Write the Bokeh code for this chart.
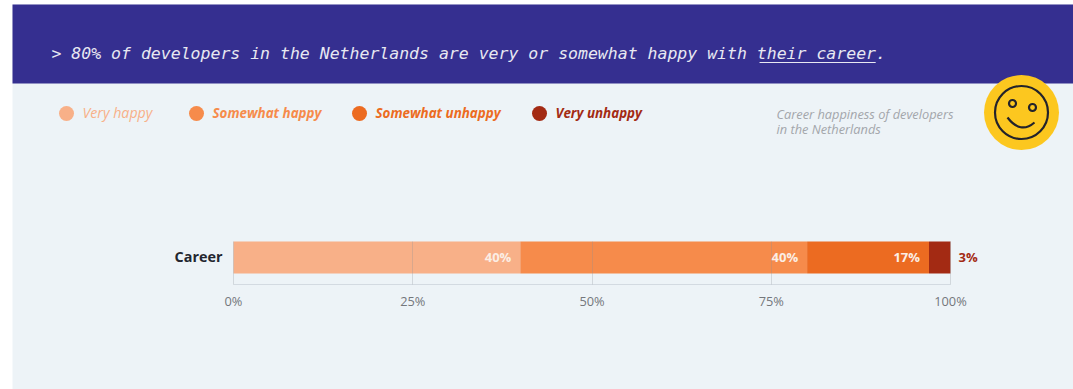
from bokeh.core.properties import value
from bokeh.embed import file_html
from bokeh.models import ColumnDataSource, FixedTicker, LinearAxis, Range1d
from bokeh.plotting import figure
from bokeh.resources import INLINE
import numpy as np

# Survey shares for the single "Career" row
category = "Career"
segments = ["Very happy", "Somewhat happy", "Somewhat unhappy", "Very unhappy"]
shares = [40, 40, 17, 3]
colors = ["#f8b088", "#f68b4b", "#ec6b21", "#a32a13"]
tick_values = [0, 25, 50, 75, 100]
headline = "> 80% of developers in the Netherlands are very or somewhat happy with their career."
underlined = "their career"
caption = ["Career happiness of developers", "in the Netherlands"]

W, H = 1073, 389
ROW_Y = 257
ROW_H = 32
AXIS_Y = 284
X0, X100 = 233, 950   # pixel span of the 0-100% scale

SANS = value("Open Sans")
MONO = value("DejaVu Sans Mono")

scale = (X100 - X0) / 100
p = figure(
    width=W, height=H, output_backend="svg", toolbar_location=None,
    x_range=Range1d(-X0 / scale, (W - X0) / scale),
    y_range=Range1d(H, 0),
    min_border=0, min_border_left=0, min_border_right=0,
    min_border_top=0, min_border_bottom=0,
    x_axis_location=None, y_axis_location=None,
    background_fill_color="#ffffff", border_fill_color="#ffffff",
    outline_line_color=None,
)
p.grid.visible = False
p.extra_x_ranges["px"] = Range1d(0, W)

# Page panel and header band, positioned in pixels
p.quad(left=[12], right=[W], top=[4], bottom=[H], x_range_name="px",
       fill_color="#edf3f7", line_color=None)
p.quad(left=[12], right=[W], top=[4], bottom=[83], x_range_name="px",
       fill_color="#352f90", line_color=None)

# Headline, with an underline under the emphasised words
HX, HY, CH = 51, 53, 9.93
p.text(x=[HX], y=[HY], text=[headline], x_range_name="px",
       text_font=MONO, text_font_style="italic", text_font_size="16.5px",
       text_color="#e8e8f2", text_baseline="middle", text_align="left")
start = headline.index(underlined)
p.segment(x0=[HX + start * CH + 3], x1=[HX + (start + len(underlined)) * CH],
          y0=[HY + 9], y1=[HY + 9], x_range_name="px",
          line_color="#e8e8f2", line_width=1.2)

# Legend row
legend_dots = [66, 196, 359, 539]
for name, color, cx in zip(segments, colors, legend_dots):
    regular = name == "Very happy"
    p.scatter(x=[cx], y=[113], size=15, marker="circle", x_range_name="px",
              fill_color=color, line_color=None)
    p.text(x=[cx + 16], y=[112], text=[name], x_range_name="px",
           text_font=SANS, text_font_size="14.2px" if regular else "13.4px",
           text_font_style="italic" if regular else "bold italic",
           text_color=color, text_baseline="middle", text_align="left")

# Chart description beside the emoji
for line, ly in zip(caption, [113, 128]):
    p.text(x=[776], y=[ly], text=[line], x_range_name="px",
           text_font=SANS, text_font_style="italic", text_font_size="12.8px",
           text_color="#a3a6ab", text_baseline="middle", text_align="left")

# Smiley badge
FX, FY = 1021, 112
INK = "#23232b"
p.scatter(x=[FX], y=[FY], size=75, marker="circle", x_range_name="px",
          fill_color="#fcc71f", line_color=None)
p.scatter(x=[FX], y=[FY], size=53, marker="circle", x_range_name="px",
          fill_color=None, line_color=INK, line_width=2.2)
p.scatter(x=[FX - 9, FX + 11], y=[FY - 9, FY - 5], size=7, marker="circle",
          x_range_name="px", fill_color=None, line_color=INK, line_width=2.2)
p.quadratic(x0=[FX - 14], y0=[FY + 5], x1=[FX + 13], y1=[FY + 10],
            cx=[FX - 1], cy=[FY + 22], x_range_name="px",
            line_color=INK, line_width=2.2)

# Stacked bar
source = ColumnDataSource({"y": [ROW_Y], **{s: [v] for s, v in zip(segments, shares)}})
p.hbar_stack(segments, y="y", height=ROW_H, color=colors, line_color=None, source=source)

# Percent scale below the bar; its ticks rise through the bar as faint rules
x_axis = LinearAxis(
    ticker=FixedTicker(ticks=tick_values),
    major_label_overrides={t: f"{t}%" for t in tick_values},
    bounds=(0, 100), fixed_location=AXIS_Y,
    axis_line_color="#d3dae1", axis_line_width=1,
    major_tick_line_color="#8a8f96", major_tick_line_alpha=0.28,
    major_tick_in=AXIS_Y - (ROW_Y - ROW_H // 2), major_tick_out=0,
    minor_tick_line_color=None, major_label_standoff=7,
    major_label_text_font="Open Sans", major_label_text_font_size="12.8px",
    major_label_text_color="#74777c", major_label_text_font_style="normal",
)
p.add_layout(x_axis, "below")

# Row label as a y axis tick at the start of the scale
y_axis = LinearAxis(
    ticker=FixedTicker(ticks=[ROW_Y - 1]),
    major_label_overrides={ROW_Y - 1: category},
    fixed_location=0, axis_line_color=None,
    major_tick_line_color=None, minor_tick_line_color=None,
    major_tick_in=0, major_tick_out=0, major_label_standoff=11,
    major_label_text_font="Open Sans", major_label_text_font_style="bold",
    major_label_text_font_size="14.4px", major_label_text_color="#23262f",
)
p.add_layout(y_axis, "left")

# Value labels: inside the segment end, or just past the bar for the last one
ends = np.cumsum(shares)
for v, e in zip(shares[:-1], ends[:-1]):
    p.text(x=[e - 9 / scale], y=[ROW_Y - 1], text=[f"{v}%"], text_font=SANS,
           text_font_style="bold", text_font_size="13px", text_color="#fbeee5",
           text_baseline="middle", text_align="right")
p.text(x=[ends[-1] + 8 / scale], y=[ROW_Y - 1], text=[f"{shares[-1]}%"], text_font=SANS,
       text_font_style="bold", text_font_size="13px", text_color=colors[-1],
       text_baseline="middle", text_align="left")

open("out.html", "w").write(file_html(p, INLINE))
